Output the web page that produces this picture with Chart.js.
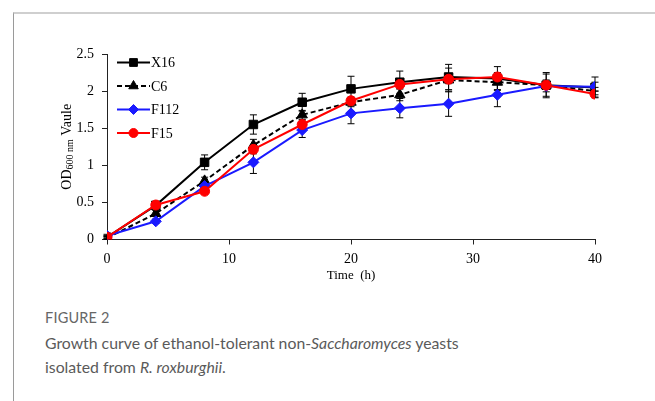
<!DOCTYPE html>
<html>
<head>
<meta charset="utf-8">
<script src="https://cdn.jsdelivr.net/npm/chart.js@4.4.1/dist/chart.umd.min.js"></script>
<style>
  body { margin: 0; background: #fff; width: 655px; height: 401px; overflow: hidden; position: relative; }
  .frame { position: absolute; left: 13px; top: 12px; width: 642px; height: 389px;
           border-left: 1px solid #9a9a9a; border-top: 2px solid #cfcfcf; box-sizing: border-box; }
  #wrap { position: absolute; left: 0; top: 0; width: 655px; height: 290px; }
  .cap { position: absolute; left: 45px; font-family: Lato, "Open Sans", sans-serif; color: #5a5a5a; }
  .fig { top: 309px; font-size: 14.5px; letter-spacing: 0.2px; color: #666; }
  .desc { top: 331px; font-size: 15.8px; line-height: 24px; }
</style>
</head>
<body>
<div class="frame"></div>
<div id="wrap"><canvas id="growth"></canvas></div>
<div class="cap fig">FIGURE 2</div>
<div class="cap desc">Growth curve of ethanol-tolerant non-<i>Saccharomyces</i> yeasts<br>isolated from <i>R. roxburghii</i>.</div>
<script>
const hours = [0, 4, 8, 12, 16, 20, 24, 28, 32, 36, 40];
const xTicks = [0, 10, 20, 30, 40];
const yTicks = [0, 0.5, 1, 1.5, 2, 2.5];

const x16 = [0.03, 0.46, 1.04, 1.55, 1.85, 2.03, 2.12, 2.19, 2.17, 2.08, 2.05];
const c6 = [0.02, 0.35, 0.79, 1.27, 1.68, 1.85, 1.95, 2.15, 2.12, 2.08, 2.0];
const f112 = [0.05, 0.245, 0.72, 1.04, 1.475, 1.70, 1.77, 1.83, 1.95, 2.07, 2.06];
const f15 = [0.03, 0.465, 0.65, 1.215, 1.55, 1.87, 2.09, 2.16, 2.19, 2.08, 1.96];

const x16Err = [0.02, 0.04, 0.10, 0.13, 0.12, 0.17, 0.15, 0.17, 0.16, 0.17, 0.14];
const c6Err = [0.02, 0.04, 0.05, 0.08, 0.06, 0.06, 0.08, 0.16, 0.10, 0.15, 0.05];
const f112Err = [0.02, 0.03, 0.04, 0.15, 0.10, 0.14, 0.13, 0.17, 0.16, 0.08, 0.06];
const f15Err = [0.02, 0.03, 0.03, 0.06, 0.06, 0.05, 0.06, 0.06, 0.06, 0.05, 0.04];

const serif = '"Liberation Serif", "Times New Roman", serif';

function pts(vals) {
    return hours.map((h, i) => ({ x: h, y: vals[i] }));
}

// error bars drawn through the scales, under the markers
const errorBars = {
    id: 'errorBars',
    beforeDatasetsDraw(chart) {
        const ctx = chart.ctx;
        const xs = chart.scales.x, ys = chart.scales.y;
        ctx.save();
        ctx.strokeStyle = '#000';
        ctx.lineWidth = 1;
        chart.data.datasets.forEach(ds => {
            ds.data.forEach((p, i) => {
                const e = ds.errors[i];
                const px = xs.getPixelForValue(p.x);
                const top = ys.getPixelForValue(p.y + e);
                const bot = ys.getPixelForValue(p.y - e);
                ctx.beginPath();
                ctx.moveTo(px, top); ctx.lineTo(px, bot);
                ctx.moveTo(px - 3.5, top); ctx.lineTo(px + 3.5, top);
                ctx.moveTo(px - 3.5, bot); ctx.lineTo(px + 3.5, bot);
                ctx.stroke();
            });
        });
        ctx.restore();
    }
};

// legend with a line sample and marker, like the original
const lineLegend = {
    id: 'lineLegend',
    afterDraw(chart) {
        const ctx = chart.ctx;
        const area = chart.chartArea;
        const names = ['X16', 'C6', 'F112', 'F15'];
        ctx.save();
        names.forEach((name, k) => {
            const ds = chart.data.datasets.find(d => d.label === name);
            const y = area.top + 8.5 + k * 23.5;
            const x0 = area.left + 10, x1 = area.left + 43;
            ctx.strokeStyle = ds.borderColor;
            ctx.lineWidth = 2;
            ctx.setLineDash(ds.borderDash || []);
            ctx.beginPath(); ctx.moveTo(x0, y); ctx.lineTo(x1, y); ctx.stroke();
            ctx.setLineDash([]);
            ctx.fillStyle = ds.pointBackgroundColor;
            ctx.strokeStyle = ds.pointBorderColor;
            ctx.lineWidth = 1;
            Chart.helpers.drawPoint(ctx, {
                pointStyle: ds.pointStyle, radius: ds.pointRadius - 0.5, rotation: 0, borderWidth: 1
            }, (x0 + x1) / 2, y);
            ctx.fillStyle = '#000';
            ctx.font = '14px ' + serif;
            ctx.textBaseline = 'middle';
            ctx.fillText(name, x1 + 1, y + 1);
        });
        ctx.restore();
    }
};

// rotated y title with subscript
const yTitle = {
    id: 'yTitle',
    afterDraw(chart) {
        const ctx = chart.ctx;
        const area = chart.chartArea;
        ctx.save();
        ctx.translate(67, (area.top + area.bottom) / 2);
        ctx.rotate(-Math.PI / 2);
        ctx.fillStyle = '#000';
        ctx.textBaseline = 'middle';
        const big = '14px ' + serif, small = '10px ' + serif;
        const parts = [['OD', big, 0], ['600 nm', small, 3], [' Vaule', big, 0]];
        let w = 0;
        parts.forEach(p => { ctx.font = p[1]; w += ctx.measureText(p[0]).width; });
        let x = -w / 2;
        parts.forEach(p => {
            ctx.font = p[1];
            ctx.fillText(p[0], x, p[2]);
            x += ctx.measureText(p[0]).width;
        });
        ctx.restore();
    }
};

const markerSize = { rect: 6, triangle: 6, rectRot: 5.5, circle: 5 };

function series(label, vals, errs, color, style, dash, order) {
    return {
        label: label,
        data: pts(vals),
        errors: errs,
        borderColor: color,
        backgroundColor: color,
        pointBackgroundColor: color,
        pointBorderColor: color,
        borderWidth: 2,
        borderDash: dash,
        pointStyle: style,
        pointRadius: markerSize[style],
        pointBorderWidth: 1,
        order: order
    };
}

document.addEventListener("DOMContentLoaded", function() {
    const ctx = document.getElementById('growth');

    new Chart(ctx, {
        type: 'line',
        data: {
            datasets: [
                series('X16', x16, x16Err, '#000000', 'rect', [], 3),
                series('C6', c6, c6Err, '#000000', 'triangle', [5, 3], 2),
                series('F112', f112, f112Err, '#1a1aff', 'rectRot', [], 1),
                series('F15', f15, f15Err, '#ff0000', 'circle', [], 0)
            ]
        },
        options: {
            responsive: true,
            maintainAspectRatio: false,
            animation: false,
            layout: { padding: { left: 0, right: 60, top: 54, bottom: 6.5 } },
            plugins: {
                legend: { display: false },
                tooltip: { enabled: false }
            },
            scales: {
                x: {
                    type: 'linear',
                    min: 0, max: 40,
                    afterBuildTicks: s => { s.ticks = xTicks.map(v => ({ value: v })); },
                    afterFit: s => { s.height = 44; },
                    grid: { drawOnChartArea: false, drawTicks: true, tickLength: 5, color: '#222' },
                    border: { color: '#222', width: 1 },
                    ticks: { color: '#000', font: { family: serif, size: 14 }, padding: 6, maxRotation: 0,
                             callback: v => String(v) },
                    title: { display: true, text: 'Time  (h)', color: '#000', font: { family: serif, size: 13 }, padding: 0 }
                },
                y: {
                    min: 0, max: 2.5,
                    afterBuildTicks: s => { s.ticks = yTicks.map(v => ({ value: v })); },
                    afterFit: s => { s.width = 107; },
                    grid: { drawOnChartArea: false, drawTicks: true, tickLength: 5, color: '#222' },
                    border: { color: '#222', width: 1 },
                    ticks: { color: '#000', font: { family: serif, size: 14 }, padding: 8,
                             callback: v => String(v) }
                }
            }
        },
        plugins: [errorBars, lineLegend, yTitle]
    });
});
</script>
</body>
</html>
